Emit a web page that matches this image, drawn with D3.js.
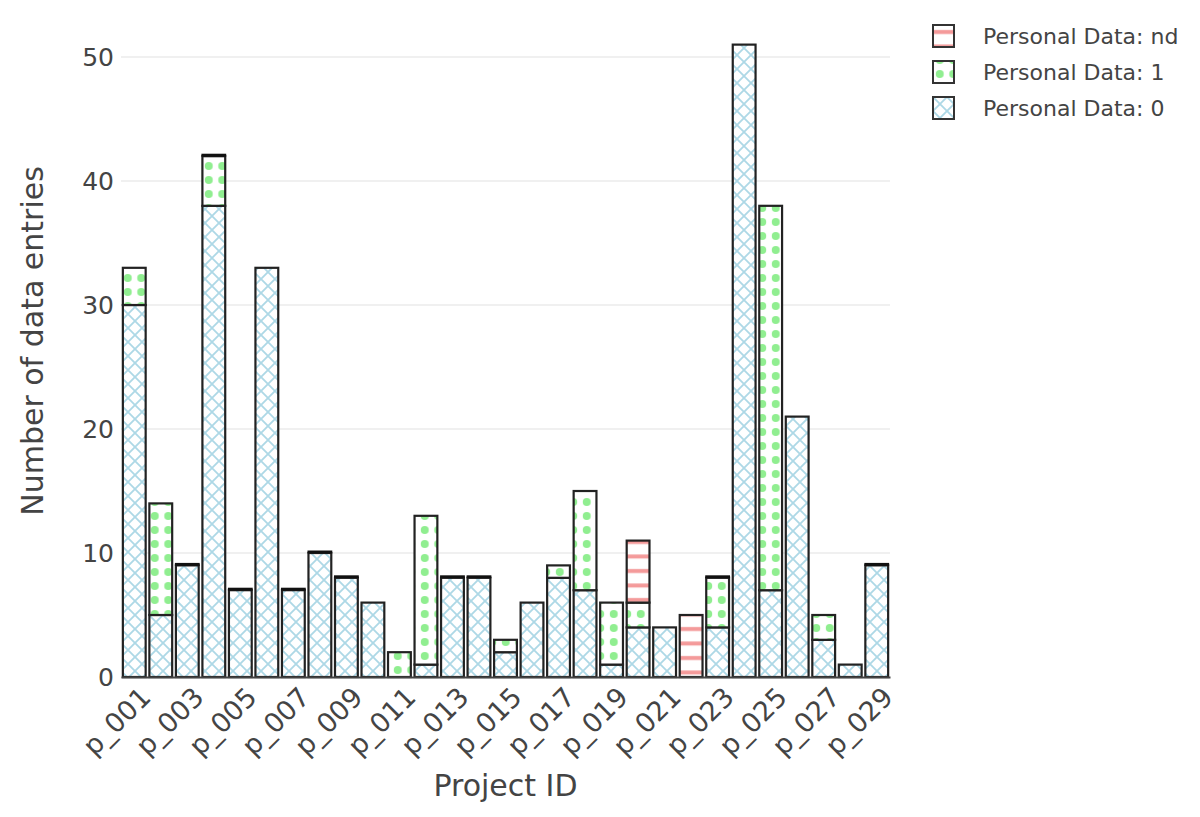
<!DOCTYPE html>
<html>
<head>
<meta charset="utf-8">
<script src="https://cdn.jsdelivr.net/npm/d3@7"></script>
<style>
    body { margin: 0; background: #fff; }
    svg { font-family: "DejaVu Sans", Verdana, sans-serif; }
</style>
</head>
<body>
<svg id="chart" width="1200" height="817"></svg>
<script>
// project ids and counts per "Personal Data" category
// null = no entry, 0 = an entry with zero count (plotted as a flat bar edge)
var projects = ['p_001','p_002','p_003','p_004','p_005','p_006','p_007','p_008','p_009','p_010',
                'p_011','p_012','p_013','p_014','p_015','p_016','p_017','p_018','p_019','p_020',
                'p_021','p_022','p_023','p_024','p_025','p_026','p_027','p_028','p_029']
var personal0  = [30, 5, 9, 38, 7, 33, 7, 10, 8, 6, null, 1, 8, 8, 2, 6, 8, 7, 1, 4, 4, null, 4, 51, 7, 21, 3, 1, 9]
var personal1  = [3, 9, 0, 4, 0, null, 0, 0, 0, null, 2, 12, 0, 0, 1, null, 1, 8, 5, 2, null, null, 4, null, 31, null, 2, null, 0]
var personalNd = [null, null, null, 0, null, null, null, null, null, null, null, null, null, null, null, null, null, null, null, 5, null, 5, 0, null, null, null, null, null, null]
var yTicks = [0, 10, 20, 30, 40, 50]
var legendLabels = ['Personal Data: nd', 'Personal Data: 1', 'Personal Data: 0']

var series = [
    { key: 'p0', values: personal0, pattern: 'pat-cross' },
    { key: 'p1', values: personal1, pattern: 'pat-dots' },
    { key: 'nd', values: personalNd, pattern: 'pat-lines' }
]

var svg = d3.select('#chart')
var margin = {top: 13, right: 310, bottom: 140, left: 121}
var width = 1200 - margin.left - margin.right
var height = 817 - margin.top - margin.bottom

// fill patterns
var defs = svg.append('defs')
var cross = defs.append('pattern').attr('id', 'pat-cross')
    .attr('patternUnits', 'userSpaceOnUse').attr('width', 14).attr('height', 14)
cross.append('rect').attr('width', 14).attr('height', 14).attr('fill', '#fff')
cross.append('path').attr('d', 'M0,0L14,14M14,0L0,14')
    .attr('stroke', '#add8e6').attr('stroke-width', 1.8).attr('fill', 'none')

var dots = defs.append('pattern').attr('id', 'pat-dots')
    .attr('patternUnits', 'userSpaceOnUse').attr('width', 13.5).attr('height', 14)
    .attr('y', 664 % 14)
dots.append('rect').attr('width', 13.5).attr('height', 14).attr('fill', '#fff')
dots.append('circle').attr('cx', 6.75).attr('cy', 7).attr('r', 4).attr('fill', '#90ee90')

var lines = defs.append('pattern').attr('id', 'pat-lines')
    .attr('patternUnits', 'userSpaceOnUse').attr('width', 14).attr('height', 14.5)
lines.append('rect').attr('width', 14).attr('height', 14.5).attr('fill', '#fff')
lines.append('rect').attr('y', 5).attr('width', 14).attr('height', 4).attr('fill', '#f49a9a')

var g = svg.append('g').attr('transform', 'translate(' + margin.left + ',' + margin.top + ')')

var x = d3.scaleBand().domain(projects).range([0, width]).paddingInner(0.14).paddingOuter(0.07)
var y = d3.scaleLinear().domain([0, 51 * 1.05]).range([height, 0])

// grid
g.append('g')
    .selectAll('line')
    .data(yTicks.filter(function(d) { return d > 0 }))
    .enter().append('line')
    .attr('x1', 0).attr('x2', width)
    .attr('y1', function(d) { return y(d) }).attr('y2', function(d) { return y(d) })
    .attr('stroke', '#ebebeb').attr('stroke-width', 1.5)

// y axis
var yAxis = g.append('g').call(d3.axisLeft(y).tickValues(yTicks).tickSize(0).tickPadding(7))
yAxis.select('.domain').remove()
yAxis.selectAll('text').attr('font-size', 25).attr('fill', '#444').attr('font-family', '"DejaVu Sans", sans-serif')

// stacked bars
var stackData = projects.map(function(p, i) {
    var row = { project: p }
    series.forEach(function(s) { row[s.key] = s.values[i] || 0 })
    return row
})
var stacked = d3.stack().keys(series.map(function(s) { return s.key }))(stackData)

stacked.forEach(function(layer, li) {
    var s = series[li]
    var layerG = g.append('g')
    var items = layer.map(function(d, i) { return { seg: d, raw: s.values[i], project: projects[i] } })
    layerG.selectAll('rect')
        .data(items.filter(function(d) { return d.raw > 0 }))
        .enter().append('rect')
        .attr('x', function(d) { return x(d.project) })
        .attr('width', x.bandwidth())
        .attr('y', function(d) { return y(d.seg[1]) })
        .attr('height', function(d) { return y(d.seg[0]) - y(d.seg[1]) })
        .attr('fill', 'url(#' + s.pattern + ')')
        .attr('stroke', '#222').attr('stroke-width', 2.2)
    // zero-height entries show up as a thicker edge
    layerG.selectAll('line')
        .data(items.filter(function(d) { return d.raw === 0 }))
        .enter().append('line')
        .attr('x1', function(d) { return x(d.project) - 1 })
        .attr('x2', function(d) { return x(d.project) + x.bandwidth() + 1 })
        .attr('y1', function(d) { return y(d.seg[1]) - 1 })
        .attr('y2', function(d) { return y(d.seg[1]) - 1 })
        .attr('stroke', '#111').attr('stroke-width', 3)
})

// x axis
var xAxis = g.append('g')
    .attr('transform', 'translate(0,' + height + ')')
    .call(d3.axisBottom(x).tickValues(projects.filter(function(d, i) { return i % 2 === 0 })).tickSize(0).tickPadding(12))
xAxis.select('.domain').attr('stroke', '#444').attr('stroke-width', 2)
xAxis.selectAll('text')
    .attr('font-size', 27).attr('fill', '#444')
    .attr('font-family', '"DejaVu Sans", sans-serif')
    .style('text-anchor', 'end')
    .attr('dx', '-0.1em')
    .attr('dy', '0.6em')
    .attr('transform', 'rotate(-45)')

// axis titles
svg.append('text')
    .attr('x', margin.left + width / 2).attr('y', 796)
    .attr('text-anchor', 'middle').attr('font-size', 30).attr('fill', '#444')
    .text('Project ID')
svg.append('text')
    .attr('transform', 'translate(43,' + (margin.top + height / 2 - 4) + ') rotate(-90)')
    .attr('text-anchor', 'middle').attr('font-size', 30).attr('fill', '#444')
    .text('Number of data entries')

// legend
var legendPatterns = ['pat-lines', 'pat-dots', 'pat-cross']
var legend = svg.append('g').attr('transform', 'translate(933,25)')
var item = legend.selectAll('g').data(legendLabels).enter().append('g')
    .attr('transform', function(d, i) { return 'translate(0,' + (i * 36) + ')' })
item.append('rect')
    .attr('width', 21).attr('height', 22)
    .attr('fill', function(d, i) { return 'url(#' + legendPatterns[i] + ')' })
    .attr('stroke', '#333').attr('stroke-width', 2)
item.append('text')
    .attr('x', 50).attr('y', 11).attr('dy', '0.35em')
    .attr('font-size', 22).attr('fill', '#444')
    .text(function(d) { return d })
</script>
</body>
</html>
